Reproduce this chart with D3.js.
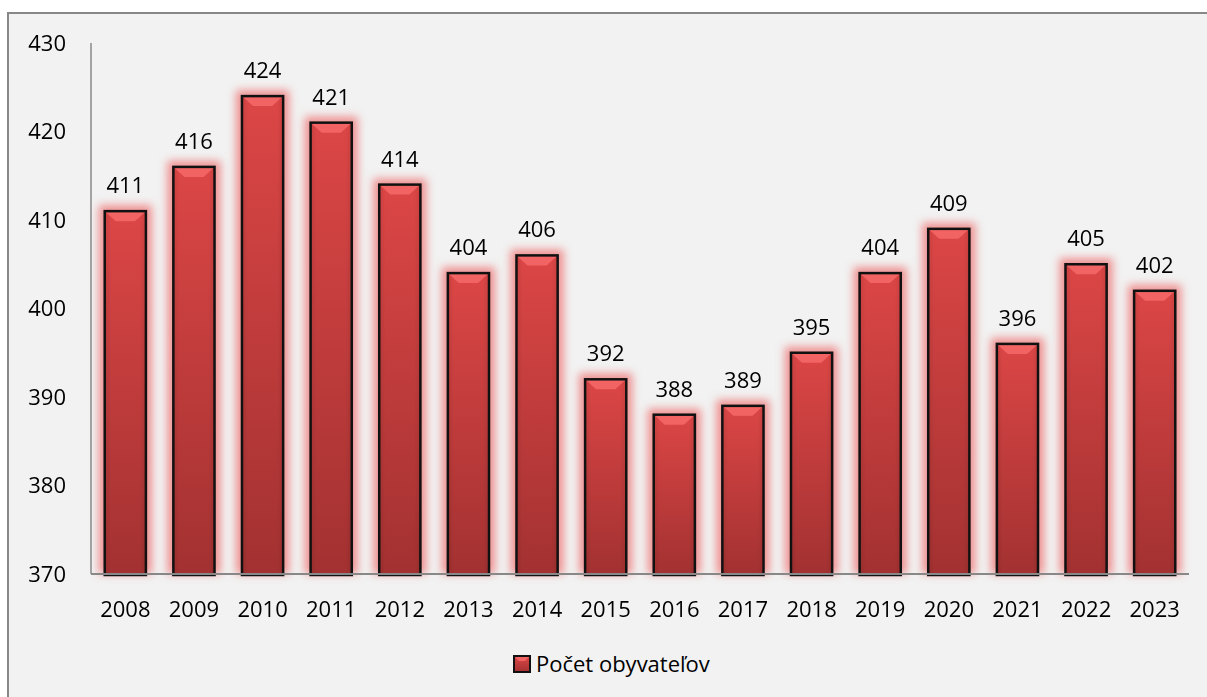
<!DOCTYPE html>
<html>
<head>
<meta charset="utf-8">
<script src="https://cdn.jsdelivr.net/npm/d3@7"></script>
<style>
  body { margin: 0; background: #fff; }
  text { font-family: "Open Sans", Lato, sans-serif; fill: #000; }
</style>
</head>
<body>
<div id="chart"></div>
<script>
const years = ["2008", "2009", "2010", "2011", "2012", "2013", "2014", "2015", "2016", "2017", "2018", "2019", "2020", "2021", "2022", "2023"]
const population = [411, 416, 424, 421, 414, 404, 406, 392, 388, 389, 395, 404, 409, 396, 405, 402]
const yTicks = [370, 380, 390, 400, 410, 420, 430]
const seriesName = "Počet obyvateľov"

const width = 1207, height = 697,
  margin = { top: 43, bottom: 123, left: 91, right: 18 };

var svg = d3.select("#chart")
  .append("svg")
  .attr("width", width)
  .attr("height", height)

var defs = svg.append("defs")

var grad = defs.append("linearGradient")
  .attr("id", "barGrad")
  .attr("x1", 0).attr("y1", 0).attr("x2", 0).attr("y2", 1)
grad.append("stop").attr("offset", "0%").attr("stop-color", "#dc4646")
grad.append("stop").attr("offset", "100%").attr("stop-color", "#a33131")

var side = defs.append("linearGradient")
  .attr("id", "sideGrad")
  .attr("x1", 0).attr("y1", 0).attr("x2", 1).attr("y2", 0)
side.append("stop").attr("offset", "0%").attr("stop-color", "#000").attr("stop-opacity", 0.08)
side.append("stop").attr("offset", "15%").attr("stop-color", "#000").attr("stop-opacity", 0)
side.append("stop").attr("offset", "85%").attr("stop-color", "#000").attr("stop-opacity", 0)
side.append("stop").attr("offset", "100%").attr("stop-color", "#000").attr("stop-opacity", 0.08)

defs.append("filter")
  .attr("id", "glow")
  .attr("x", "-50%").attr("y", "-50%").attr("width", "200%").attr("height", "200%")
  .append("feGaussianBlur")
  .attr("stdDeviation", 4)

// chart background and frame
svg.append("rect")
  .attr("x", 8).attr("y", 13)
  .attr("width", width).attr("height", height)
  .attr("fill", "#f2f2f2")
  .attr("stroke", "#888")
  .attr("stroke-width", 2)

var x = d3.scaleBand()
  .domain(years)
  .range([margin.left, width - margin.right])
  .paddingInner(0.4)
  .paddingOuter(0.2)

var y = d3.scaleLinear()
  .domain([370, 430])
  .range([height - margin.bottom, margin.top])

var bottom = y(370)

// glow behind bars
svg.append("g")
  .attr("filter", "url(#glow)")
  .selectAll("rect")
  .data(population)
  .enter()
  .append("rect")
  .attr("x", (d, i) => x(years[i]) - 6)
  .attr("y", d => y(d) - 6)
  .attr("width", x.bandwidth() + 12)
  .attr("height", d => bottom - y(d) + 6)
  .attr("fill", "#ee8585")
  .attr("opacity", 0.9)

// y axis line
svg.append("line")
  .attr("x1", margin.left).attr("x2", margin.left)
  .attr("y1", margin.top).attr("y2", bottom)
  .attr("stroke", "#888").attr("stroke-width", 1.5)

var bars = svg.append("g")
  .selectAll("g")
  .data(population)
  .enter()
  .append("g")

bars.append("rect")
  .attr("x", (d, i) => x(years[i]))
  .attr("y", d => y(d))
  .attr("width", x.bandwidth())
  .attr("height", d => bottom - y(d))
  .attr("fill", "url(#barGrad)")

bars.append("rect")
  .attr("x", (d, i) => x(years[i]))
  .attr("y", d => y(d))
  .attr("width", x.bandwidth())
  .attr("height", d => bottom - y(d))
  .attr("fill", "url(#sideGrad)")

// top bevel
bars.append("path")
  .attr("d", (d, i) => {
    var x0 = x(years[i]), x1 = x0 + x.bandwidth(), t = y(d)
    return `M${x0},${t}L${x1},${t}L${x1 - 11},${t + 10}L${x0 + 11},${t + 10}Z`
  })
  .attr("fill", "#f26464")

bars.append("rect")
  .attr("x", (d, i) => x(years[i]))
  .attr("y", d => y(d))
  .attr("width", x.bandwidth())
  .attr("height", d => bottom - y(d) + 1)
  .attr("fill", "none")
  .attr("stroke", "#111")
  .attr("stroke-width", 2.5)

// x axis line
svg.append("line")
  .attr("x1", margin.left).attr("x2", width - margin.right)
  .attr("y1", bottom).attr("y2", bottom)
  .attr("stroke", "#888").attr("stroke-width", 2)

// data labels
bars.append("text")
  .attr("x", (d, i) => x(years[i]) + x.bandwidth() / 2)
  .attr("y", d => y(d) - 18)
  .attr("text-anchor", "middle")
  .style("font-size", "22px")
  .text(d => d)

// y tick labels
svg.append("g")
  .selectAll("text")
  .data(yTicks)
  .enter()
  .append("text")
  .attr("x", 66)
  .attr("y", d => y(d))
  .attr("dy", "0.36em")
  .attr("text-anchor", "end")
  .style("font-size", "22px")
  .text(d => d)

// x tick labels
svg.append("g")
  .selectAll("text")
  .data(years)
  .enter()
  .append("text")
  .attr("x", d => x(d) + x.bandwidth() / 2)
  .attr("y", bottom + 43)
  .attr("text-anchor", "middle")
  .style("font-size", "22px")
  .text(d => d)

// legend
var legend = svg.append("g").attr("transform", "translate(514,656)")
legend.append("rect")
  .attr("width", 16).attr("height", 16)
  .attr("fill", "url(#barGrad)")
  .attr("stroke", "#111").attr("stroke-width", 2)
legend.append("path")
  .attr("d", "M1,1L15,1L11,5L5,5Z")
  .attr("fill", "#f26464")
legend.append("text")
  .attr("x", 22)
  .attr("y", 16)
  .style("font-size", "22px")
  .text(seriesName)
</script>
</body>
</html>
